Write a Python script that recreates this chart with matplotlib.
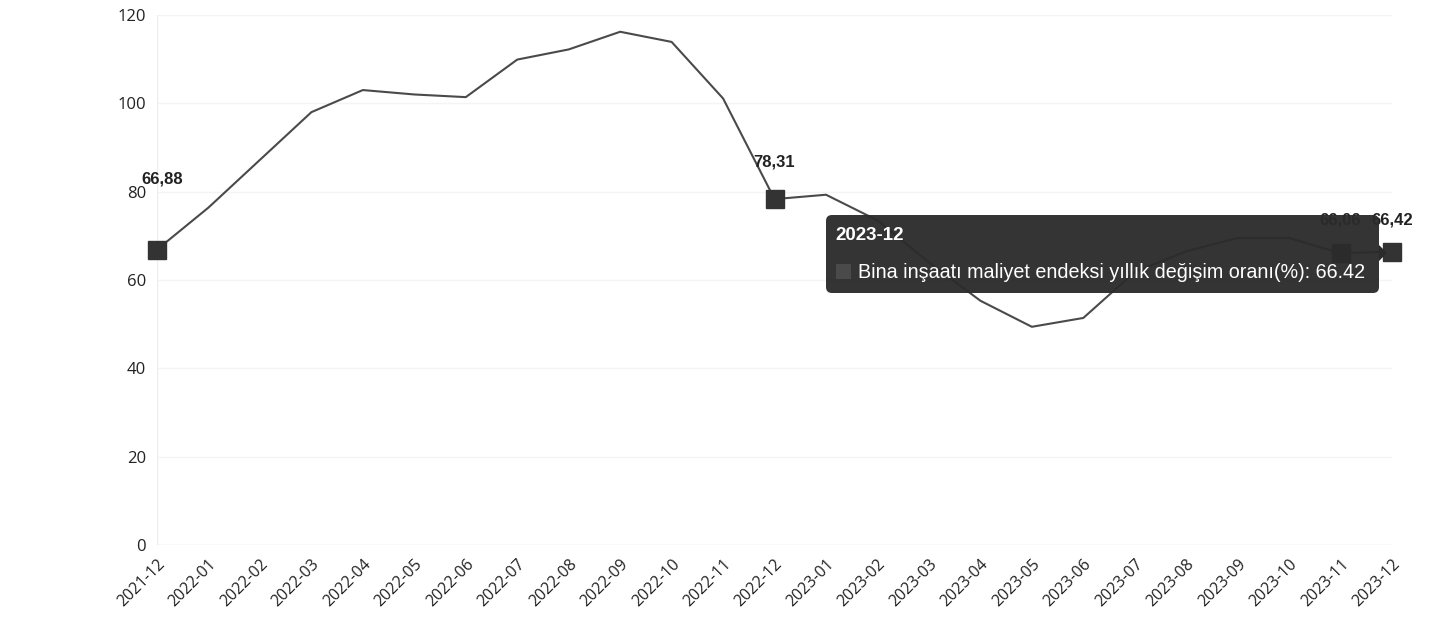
import numpy as np
import matplotlib.pyplot as plt
from matplotlib.patches import FancyBboxPatch, Rectangle, Polygon

# Aylar ve yıllık değişim oranı (%)
months = ["2021-12", "2022-01", "2022-02", "2022-03", "2022-04", "2022-05", "2022-06",
          "2022-07", "2022-08", "2022-09", "2022-10", "2022-11", "2022-12",
          "2023-01", "2023-02", "2023-03", "2023-04", "2023-05", "2023-06",
          "2023-07", "2023-08", "2023-09", "2023-10", "2023-11", "2023-12"]
values = [66.88, 76.4, 87.2, 98.0, 103.0, 102.0, 101.4,
          109.9, 112.2, 116.2, 113.9, 101.1, 78.31,
          79.3, 73.5, 64.0, 55.3, 49.4, 51.4,
          61.8, 66.5, 69.5, 69.5, 66.06, 66.42]
marked = ["2021-12", "2022-12", "2023-11", "2023-12"]
label_offsets = [(4, 51), (0, 27), (0, 24), (0, 23)]  # punto
series_name = "Bina inşaatı maliyet endeksi yıllık değişim oranı(%)"

x = np.arange(len(months))

fig = plt.figure(figsize=(14.46, 6.32), dpi=100)
ax = fig.add_axes([0.1086, 0.1377, 0.8541, 0.8386])

ax.plot(x, values, color="#4a4a4a", lw=1.5, zorder=3)

for m, off in zip(marked, label_offsets):
    i = months.index(m)
    ax.plot(x[i], values[i], marker="s", ms=13, color="#333333", zorder=4, clip_on=False)
    ax.annotate(f"{values[i]:.2f}".replace(".", ","), (x[i], values[i]),
                xytext=off, textcoords="offset points", ha="center", va="center",
                fontsize=12, fontweight="bold", color="#222222",
                family="Liberation Sans", zorder=5, annotation_clip=False)

ax.set_xlim(0, len(months) - 1)
ax.set_ylim(0, 120)
ax.set_yticks(np.arange(0, 121, 20))
ax.set_xticks(x)
ax.set_xticklabels(months, rotation=45, ha="right", rotation_mode="anchor",
                   fontsize=11.5, color="#222222", family="Open Sans")
for lab in ax.get_yticklabels():
    lab.set_fontsize(12)
    lab.set_color("#222222")
    lab.set_family("Open Sans")
ax.tick_params(axis="both", length=0)
ax.tick_params(axis="y", pad=8)
ax.tick_params(axis="x", pad=8)
ax.grid(axis="y", color="#f4f4f4", lw=1)
ax.axvline(0, color="#eeeeee", lw=1)
for s in ax.spines.values():
    s.set_visible(False)
ax.axhline(0, color="#e8e8e8", lw=1)

# Tooltip (son nokta), piksel koordinatlarında üst katman
ov = fig.add_axes([0, 0, 1, 1], zorder=10)
ov.set_xlim(0, 1446)
ov.set_ylim(632, 0)
ov.axis("off")
ov.patch.set_alpha(0)

last = len(months) - 1
ov.add_patch(FancyBboxPatch((826, 215), 553, 78,
                            boxstyle="round,pad=0,rounding_size=6",
                            facecolor="#2b2b2b", edgecolor="none", alpha=0.96))
ov.add_patch(Polygon([[1379, 245], [1387, 253], [1379, 261]], closed=True,
                     facecolor="#2b2b2b", edgecolor="none"))
ov.text(835, 236, months[last], color="white", fontsize=13.5, fontweight="bold",
        va="center", family="Liberation Sans")
ov.add_patch(Rectangle((836, 264), 15, 15, facecolor="#4a4a4a", edgecolor="none"))
ov.text(858, 272, f"{series_name}: {values[last]:.2f}", color="white",
        fontsize=14.2, va="center", family="Liberation Sans")

plt.savefig("out.png", dpi=100)
